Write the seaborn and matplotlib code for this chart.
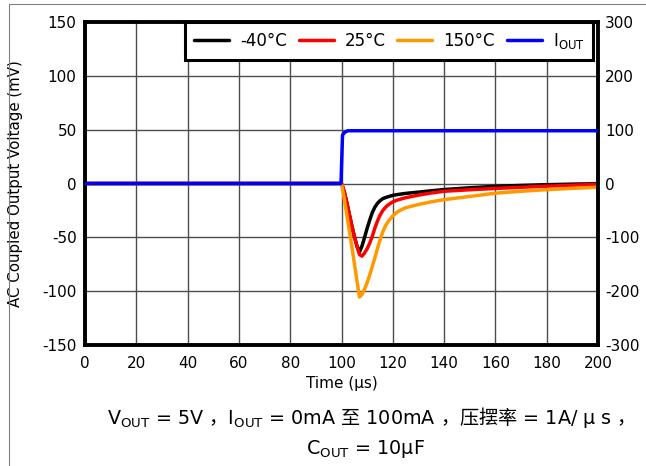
import matplotlib
matplotlib.use("Agg")
import matplotlib.pyplot as plt
from matplotlib.lines import Line2D
import pandas as pd
import seaborn as sns

# Load-step transient: AC-coupled output voltage (mV) versus time (µs)
time_us = [0, 100, 101, 102, 103, 104, 105, 106, 107, 108, 109, 110, 111, 112, 113,
           114, 115, 116, 117, 118, 120, 122, 125, 130, 135, 140, 150, 160, 170, 180,
           190, 200]
v_m40c = [0, 0, -7, -17, -28, -39, -49, -58, -63.5, -58, -50, -41.5, -34, -27, -22,
          -18.5, -16, -14.2, -13.2, -12.4, -11, -10.2, -9.2, -8, -6.8, -5.6, -4, -2.6,
          -1.8, -1.1, -0.6, -0.2]
v_25c = [0, 0, -7, -17, -28, -39, -49, -58, -66, -67.5, -64.5, -60.5, -55.5, -49, -41.5,
         -35, -29.5, -25.5, -22.5, -20.2, -17, -15.2, -13.2, -10.8, -8.8, -7.2, -5.8,
         -4.6, -3.5, -2.5, -1.6, -0.8]
v_150c = [0, 0, -13, -28, -43, -58, -74, -90, -105.5, -103, -98, -92, -85, -77, -69,
          -60.5, -52.5, -45.5, -40, -36, -30, -26, -22.5, -19.5, -17, -15, -12, -9,
          -7.2, -5.7, -4.5, -3.5]

# Output current step (mA), right axis
iout_time_us = [0, 99.8, 100.4, 101.2, 102.5, 200]
iout_ma = [0, 0, 90, 95, 98, 98]

temp_labels = ["-40°C", "25°C", "150°C"]
iout_label = r"I$_{\mathregular{OUT}}$"
temp_colors = ["#000000", "#ff0000", "#ff9900"]
iout_color = "#0000ff"

x_ticks = [0, 20, 40, 60, 80, 100, 120, 140, 160, 180, 200]
left_ticks = [-150, -100, -50, 0, 50, 100, 150]
right_ticks = [-300, -200, -100, 0, 100, 200, 300]

caption_line1 = (r"V$_{\mathregular{OUT}}$ = 5V $\mathrm{，}$I$_{\mathregular{OUT}}$ = 0mA "
                 r"$\mathrm{至}$ 100mA $\mathrm{，压摆率}$ = 1A/ μ s $\mathrm{，}$")
caption_line2 = r"C$_{\mathregular{OUT}}$ = 10µF"

sns.set_style("white")
plt.rcParams["font.family"] = ["DejaVu Sans", "Noto Sans CJK SC"]
plt.rcParams["mathtext.fontset"] = "custom"
plt.rcParams["mathtext.rm"] = "Noto Sans CJK SC"
plt.rcParams["axes.unicode_minus"] = False
for key in ("text.color", "axes.labelcolor", "xtick.color", "ytick.color"):
    plt.rcParams[key] = "black"

LW = 2.5
W, H = 646, 466
fig = plt.figure(figsize=(W / 100, H / 100), dpi=100)
ax = fig.add_axes([85 / W, 1 - 345 / H, 513 / W, 323 / H])

df = pd.DataFrame({
    "t": time_us * 3,
    "v": v_m40c + v_25c + v_150c,
    "series": sum([[lab] * len(time_us) for lab in temp_labels], []),
})
sns.lineplot(data=df, x="t", y="v", hue="series", hue_order=temp_labels,
             palette=dict(zip(temp_labels, temp_colors)), linewidth=LW,
             estimator=None, sort=False, legend=False, ax=ax)

ax.set_xlim(0, 200)
ax.set_ylim(-150, 150)
ax.set_xticks(x_ticks)
ax.set_yticks(left_ticks)
ax.grid(True, color="0.3", linewidth=1.0)
ax.set_axisbelow(True)
ax.tick_params(axis="both", length=0, labelsize=11)
ax.tick_params(axis="x", pad=8)
ax.tick_params(axis="y", pad=6)
for sp in ax.spines.values():
    sp.set_visible(True)
    sp.set_color("black")
    sp.set_linewidth(2.8)

ax.set_xlabel("Time (µs)", fontsize=11)
ax.xaxis.set_label_coords(0.5, -0.095)
ax.set_ylabel("AC Coupled Output Voltage (mV)", fontsize=10.8)
ax.yaxis.set_label_coords(-0.121, 0.5)

ax2 = ax.twinx()
sns.lineplot(x=iout_time_us, y=iout_ma, color=iout_color, linewidth=LW,
             estimator=None, sort=False, ax=ax2)
ax2.set_ylim(-300, 300)
ax2.set_yticks(right_ticks)
ax2.tick_params(axis="y", length=0, labelsize=11, pad=5)
ax2.set_ylabel("")
for sp in ax2.spines.values():
    sp.set_visible(False)

handles = [Line2D([], [], color=c, linewidth=LW) for c in temp_colors + [iout_color]]
leg = ax2.legend(handles, temp_labels + [iout_label], loc="upper right",
                 bbox_to_anchor=(0.991, 1.0), ncol=4, fontsize=12, frameon=True,
                 fancybox=False, edgecolor="black", framealpha=1,
                 borderaxespad=0, borderpad=0.55, handlelength=2.1,
                 handletextpad=0.65, columnspacing=0.72)
leg.get_frame().set_linewidth(2.2)

fig.text(366 / W, 1 - 424 / H, caption_line1, ha="center", va="baseline", fontsize=13.8)
fig.text(365 / W, 1 - 454 / H, caption_line2, ha="center", va="baseline", fontsize=13.8)

# thin page frame along the left and top edges
fig.add_artist(Line2D([9 / W, 9 / W], [0, 1 - 4 / H], color="0.5", linewidth=0.8,
                      transform=fig.transFigure))
fig.add_artist(Line2D([9 / W, 1], [1 - 4 / H, 1 - 4 / H], color="0.5", linewidth=0.8,
                      transform=fig.transFigure))

fig.savefig("out.png", dpi=100)
